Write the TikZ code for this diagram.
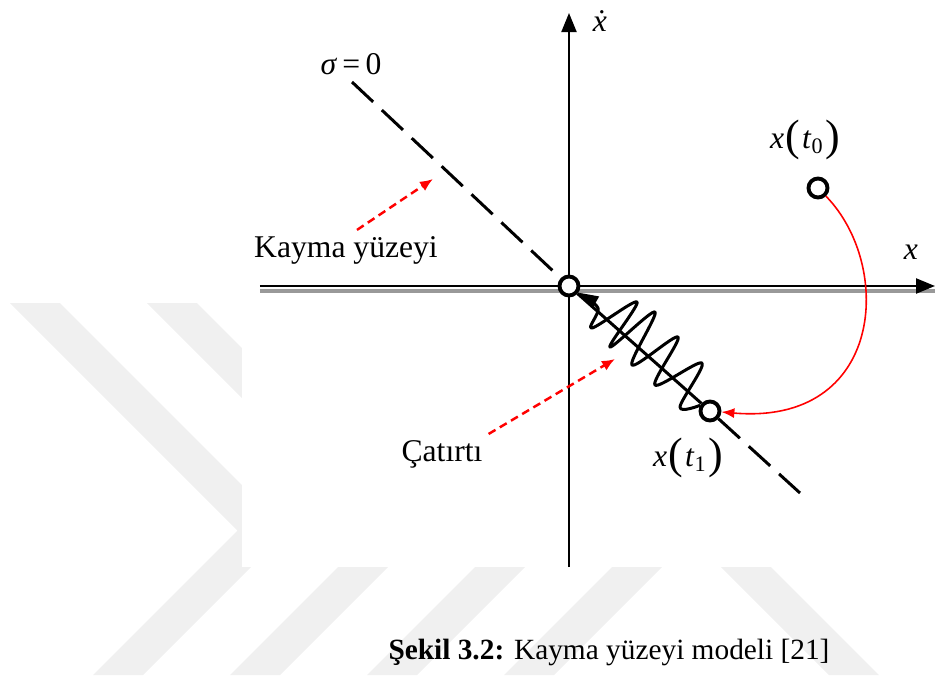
\documentclass[tikz,border=0pt]{standalone}
\usepackage{fontspec}
\setmainfont{Liberation Serif}
\usetikzlibrary{arrows.meta}

% state label x(t_i) with tall brackets
\newcommand{\xof}[1]{\textit{x}\kern1pt\raisebox{-1pt}{\fontsize{25}{25}\selectfont(}\kern1pt\textit{t}\textsubscript{#1}\kern1pt\raisebox{-1pt}{\fontsize{25}{25}\selectfont)}}
% x with a dot on top
\newcommand{\xdt}{\textit{\accent"02D9 x}}

\begin{document}
\begin{tikzpicture}[every node/.style={font=\fontsize{18}{21}\selectfont},
    pnt/.style={circle, draw=black, line width=2.2pt, fill=white,
                minimum size=0.38cm, inner sep=0pt},
    wm/.style={fill=black!6},
    hint/.style={red, line width=1.4pt, dash pattern=on 0.16cm off 0.1cm,
                 -{Latex[length=0.26cm, width=0.22cm]}}]
    \useasboundingbox (-11.38,-7.78) rectangle (7.32,5.72);

    % --- page background: faint watermark ----------------------------
    \fill[wm] (-11.18,-0.34) -- (-6.63,-4.89) -- (-9.52,-7.78) -- (-8.52,-7.78)
      -- (-5.63,-4.89) -- (-10.18,-0.34) -- cycle;
    \fill[wm] (-8.44,-0.34) -- (-3.89,-4.89) -- (-6.78,-7.78) -- (-5.78,-7.78)
      -- (-2.89,-4.89) -- (-7.44,-0.34) -- cycle;
    \fill[wm] (-5.70,-0.34) -- (-1.15,-4.89) -- (-4.04,-7.78) -- (-3.04,-7.78)
      -- (-0.15,-4.89) -- (-4.70,-0.34) -- cycle;
    \fill[wm] (-2.96,-0.34) -- (1.59,-4.89) -- (-1.30,-7.78) -- (-0.30,-7.78)
      -- (2.59,-4.89) -- (-1.96,-0.34) -- cycle;
    \fill[wm] (2.5,-5.08) -- (5.2,-7.78) -- (6.2,-7.78) -- (3.5,-5.08) -- cycle;

    % the figure itself sits on a white panel
    \fill[white] (-6.54,-5.62) rectangle (7.32,5.72);

    % --- phase plane axes ----------------------------------------------
    \coordinate (xl) at (-6.18,0);
    \coordinate (xr) at (7.32,0);
    \coordinate (yb) at (0,-5.62);
    \coordinate (yt) at (0,5.46);
    \draw[line width=2.4pt, black!40] ([yshift=-0.1cm]xl) -- ([yshift=-0.1cm]xr);
    \draw[line width=1.3pt, -{Triangle[length=0.38cm, width=0.3cm]}] (xl) -- (xr);
    \draw[line width=1.1pt, -{Triangle[length=0.38cm, width=0.3cm]}] (yb) -- (yt);
    \node (xlab) at (6.84,0.68) {\textit{x}};
    \node (xdot) at (0.62,5.3) {\xdt};

    % --- sliding surface sigma = 0 -------------------------------------
    \coordinate (s1) at (-4.34,4.08);
    \coordinate (s2) at (4.62,-4.14);
    \node (sig) at (-4.36,4.44) {\textit{σ}\,=\,0};

    % states on the trajectory
    \node[pnt] (o) at (0,0) {};
    \node[pnt] (p1) at (2.82,-2.5) {};
    \node[pnt] (p0) at (4.98,1.96) {};
    \node (lt0) at (4.72,2.92) {\xof{0}};
    \node (lt1) at (2.38,-3.44) {\xof{1}};

    \draw[line width=1.7pt, dash pattern=on 0.58cm off 0.24cm] (s1) -- (o);
    \draw[line width=1.7pt] (o) -- (p1);
    \draw[line width=1.7pt, dash pattern=on 0.58cm off 0.24cm] (p1) -- (s2);

    % reaching phase
    \draw[red, line width=0.9pt, -{Latex[length=0.26cm, width=0.2cm]}]
      (p0) .. controls (6.5,0.4) and (6.3,-2.8) .. (p1);

    % chattering along the surface
    \draw[line width=1.7pt, line join=round,
          -{Triangle[length=0.4cm, width=0.26cm]}]
      plot[smooth, tension=0.55] coordinates {(p1.150) (2.22,-2.42) (2.66,-1.54)
        (1.72,-1.98) (2.18,-1.02) (1.26,-1.58) (1.72,-0.52) (0.82,-1.22)
        (1.36,-0.32) (0.46,-0.84) (0.58,-0.44) (o.-35)};

    % --- annotations -----------------------------------------------------
    \node (kayma) at (-4.46,0.72) {Kayma yüzeyi};
    \coordinate (kt) at (-2.72,2.14);
    \draw[hint] ([xshift=0.22cm]kayma.north) -- (kt);

    \node (catirti) at (-2.54,-3.36) {Çatırtı};
    \coordinate (ct) at (0.92,-1.46);
    \draw[hint] (catirti.north east) -- (ct);

    \node[font=\fontsize{16.7}{20}\selectfont] (cap) at (0.8,-7.32)
      {\textbf{Şekil 3.2:} Kayma yüzeyi modeli [21]};
\end{tikzpicture}
\end{document}
